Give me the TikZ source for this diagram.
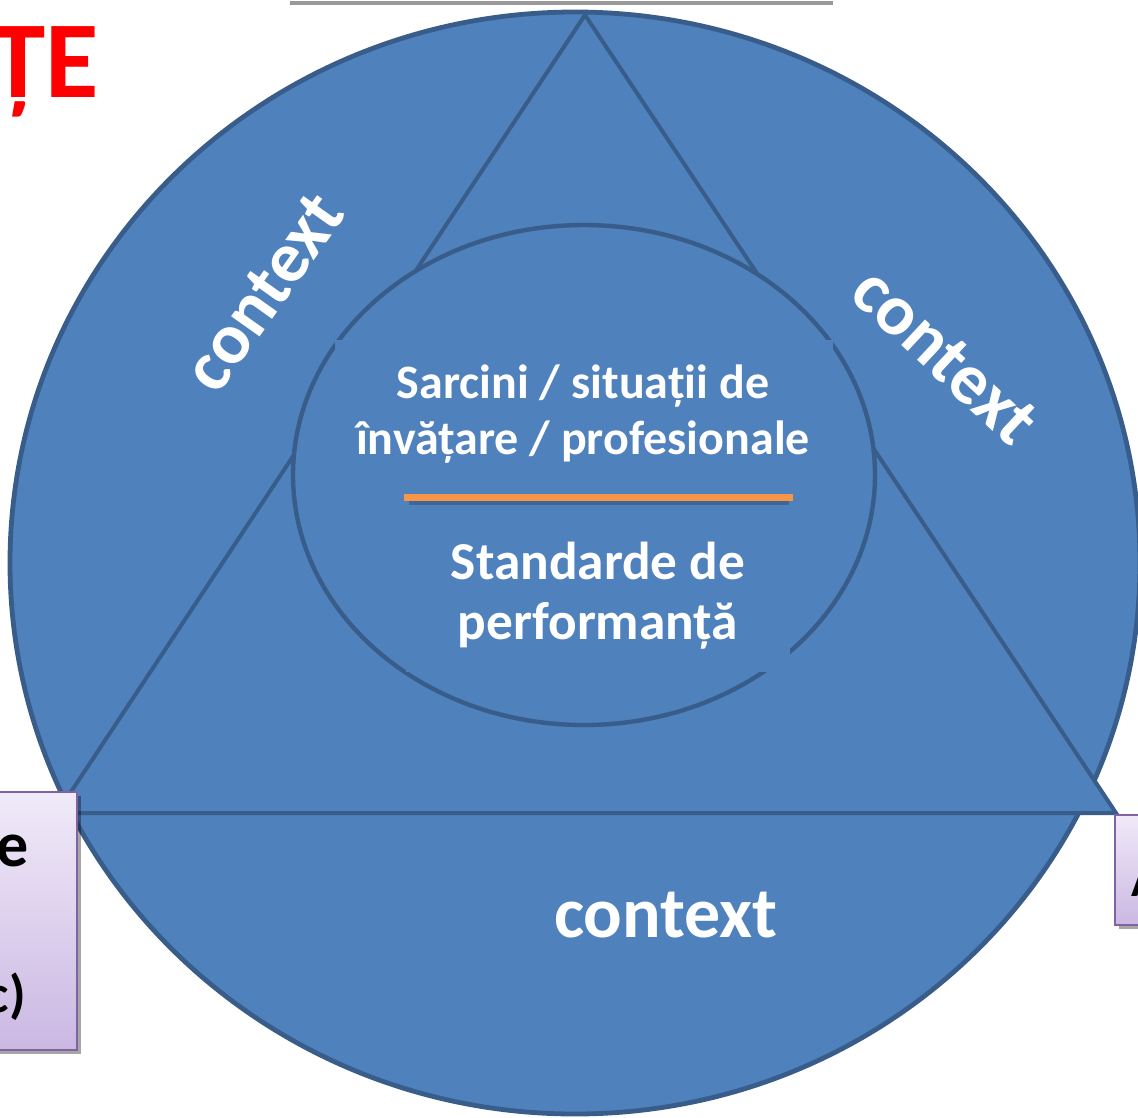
\documentclass[tikz,border=0pt]{standalone}
\usepackage{fontspec}
\setmainfont{Carlito}
\usetikzlibrary{shadows}
\definecolor{bfill}{HTML}{4F81BD}
\definecolor{bline}{HTML}{385D8A}
\definecolor{orng}{HTML}{F79646}
\definecolor{oshadow}{HTML}{3E6699}
\definecolor{pline}{HTML}{8064A2}
\definecolor{ptop}{HTML}{F0EAF8}
\definecolor{pbot}{HTML}{CBB8E3}
\begin{document}
\begin{tikzpicture}[x=0.75pt,y=-0.75pt,
  blueshape/.style={fill=bfill, draw=bline, line width=3pt},
  ctx/.style={text=white, font=\bfseries\fontsize{54}{60}\selectfont, inner sep=0pt},
  inner/.style={text=white, align=center, inner sep=0pt},
  sidebox/.style={top color=ptop, bottom color=pbot, draw=pline, line width=1.5pt,
    drop shadow={shadow xshift=3pt, shadow yshift=-3pt, opacity=0.35, fill=black}},
  blk/.style={text=black, font=\bfseries, inner sep=0pt}]
\useasboundingbox (0,0) rectangle (1138,1117);
\clip (0,0) rectangle (1138,1117);
% top box (cut off)
\fill[white, drop shadow={shadow xshift=0pt, shadow yshift=-3pt, opacity=0.4, fill=black}] (290,-40) rectangle (833,1);
% red title fragment
\node[text=red, font=\bfseries\fontsize{82}{90}\selectfont, anchor=base east, inner sep=0pt] (title) at (99,97) {ȚE};
% outer circle
\draw[blueshape, line width=3.6pt] (575,563) ellipse [x radius=565, y radius=551];
% triangle
\draw[blueshape] (585,15) -- (57,813) -- (1116,813) -- cycle;
% inner ellipse
\draw[blueshape, line width=3.3pt] (584,475) ellipse [x radius=291, y radius=250];
% text areas covering the ellipse outline
\fill[bfill] (335,340) rectangle (833,500);
\fill[bfill] (406,505) rectangle (790,672);
% orange separator
\draw[oshadow, line width=3pt] (409,503) -- (789,503);
\draw[orng, line width=5.25pt] (404,497) -- (793,497);
% texts
\node[inner, font=\bfseries\fontsize{36}{42}\selectfont] (tasks) at (583,414) {Sarcini / situații de\\învățare / profesionale};
\node[inner, font=\bfseries\fontsize{40}{45}\selectfont] (std) at (598,596) {Standarde de\\performanță};
\node[ctx] (cbottom) at (666,915) {context};
\node[ctx, rotate=54.6] (cleft) at (264,292) {context};
\node[ctx, rotate=-43] (cright) at (945,356) {context};
% side boxes
\path[sidebox] (-20,792) rectangle (77,1050);
\path[sidebox] (1115,815) rectangle (1170,925);
\node[blk, font=\bfseries\fontsize{48}{54}\selectfont, anchor=base east] (le) at (29,866) {e};
\node[blk, font=\bfseries\fontsize{40}{46}\selectfont, anchor=base east] (lc) at (26,1012) {c)};
\node[blk, font=\bfseries\fontsize{36}{42}\selectfont, anchor=base west] (ra) at (1131,896) {A};
\end{tikzpicture}
\end{document}
